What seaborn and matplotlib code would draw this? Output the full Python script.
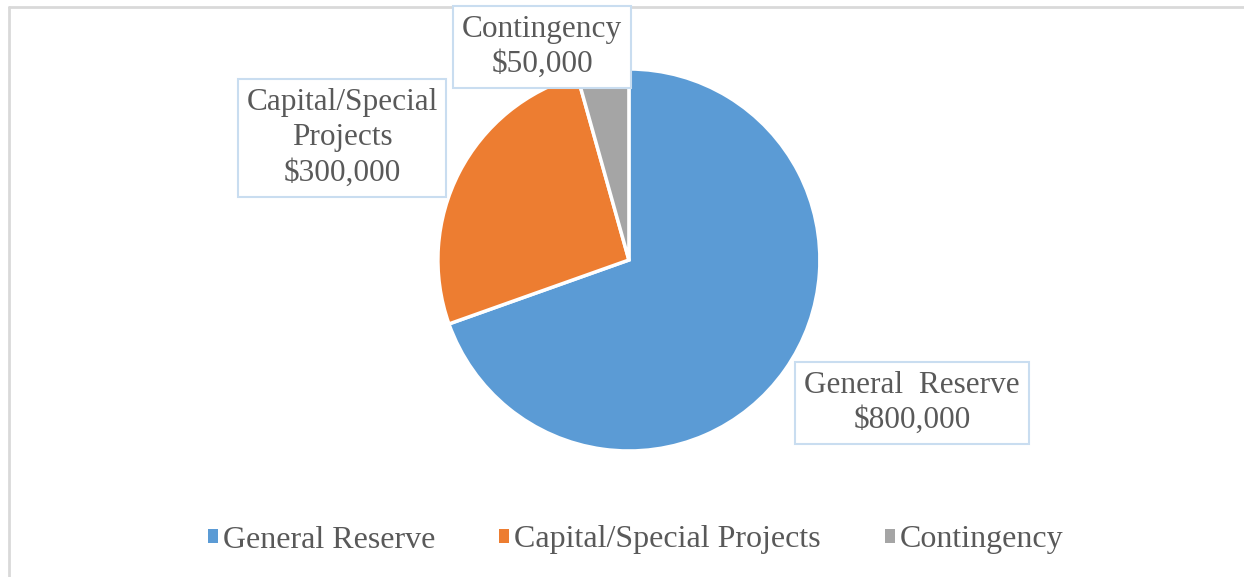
import matplotlib
matplotlib.use("Agg")
import matplotlib.pyplot as plt
from matplotlib.lines import Line2D
from matplotlib.patches import Patch
import seaborn as sns

# data
categories = ["General Reserve", "Capital/Special Projects", "Contingency"]
amounts = [800000, 300000, 50000]
label_text = ["General  Reserve", "Capital/Special\nProjects", "Contingency"]
colors = ["#5B9BD5", "#ED7D31", "#A5A5A5"]

sns.set_theme(style="white")
plt.rcParams["font.family"] = ["Liberation Serif", "DejaVu Serif"]
text_color = "#595959"

fig = plt.figure(figsize=(12.44, 5.77), dpi=100)
ax = fig.add_axes([0.352, 0.2184, 0.3071, 0.662])

wedges, _ = ax.pie(
    amounts,
    colors=colors,
    startangle=90,
    counterclock=False,
    wedgeprops=dict(edgecolor="white", linewidth=2.5),
)
ax.set_xlim(-1, 1)
ax.set_ylim(-1, 1)
ax.set_aspect("equal")

# data label boxes (figure coordinates)
label_pos = [(912 / 1244, 1 - 403 / 577), (342 / 1244, 1 - 138 / 577), (542 / 1244, 1 - 47 / 577)]
for txt, amt, (x, y) in zip(label_text, amounts, label_pos):
    fig.text(
        x, y, f"{txt}\n${amt:,.0f}",
        ha="center", va="center", fontsize=22.5, color=text_color,
        linespacing=1.3, transform=fig.transFigure,
        bbox=dict(boxstyle="square,pad=0.28", facecolor="white",
                  edgecolor="#C9DDF0", linewidth=1.5),
    )

handles = [Patch(facecolor=c, edgecolor="none") for c in colors]
leg = fig.legend(
    handles, categories, loc="center", bbox_to_anchor=(0.511, 1 - 540 / 577),
    ncol=3, frameon=False, fontsize=23, handlelength=0.32, handleheight=0.32,
    handletextpad=0.15, columnspacing=2.0,
)
for t in leg.get_texts():
    t.set_color(text_color)

# chart area border (top and left visible)
fig.add_artist(Line2D([8.5 / 1244, 8.5 / 1244], [0, 1 - 6.5 / 577], color="#D9D9D9", linewidth=2, transform=fig.transFigure))
fig.add_artist(Line2D([8.5 / 1244, 1], [1 - 6.5 / 577, 1 - 6.5 / 577], color="#D9D9D9", linewidth=2, transform=fig.transFigure))

fig.savefig("out.png", dpi=100, facecolor="white")
